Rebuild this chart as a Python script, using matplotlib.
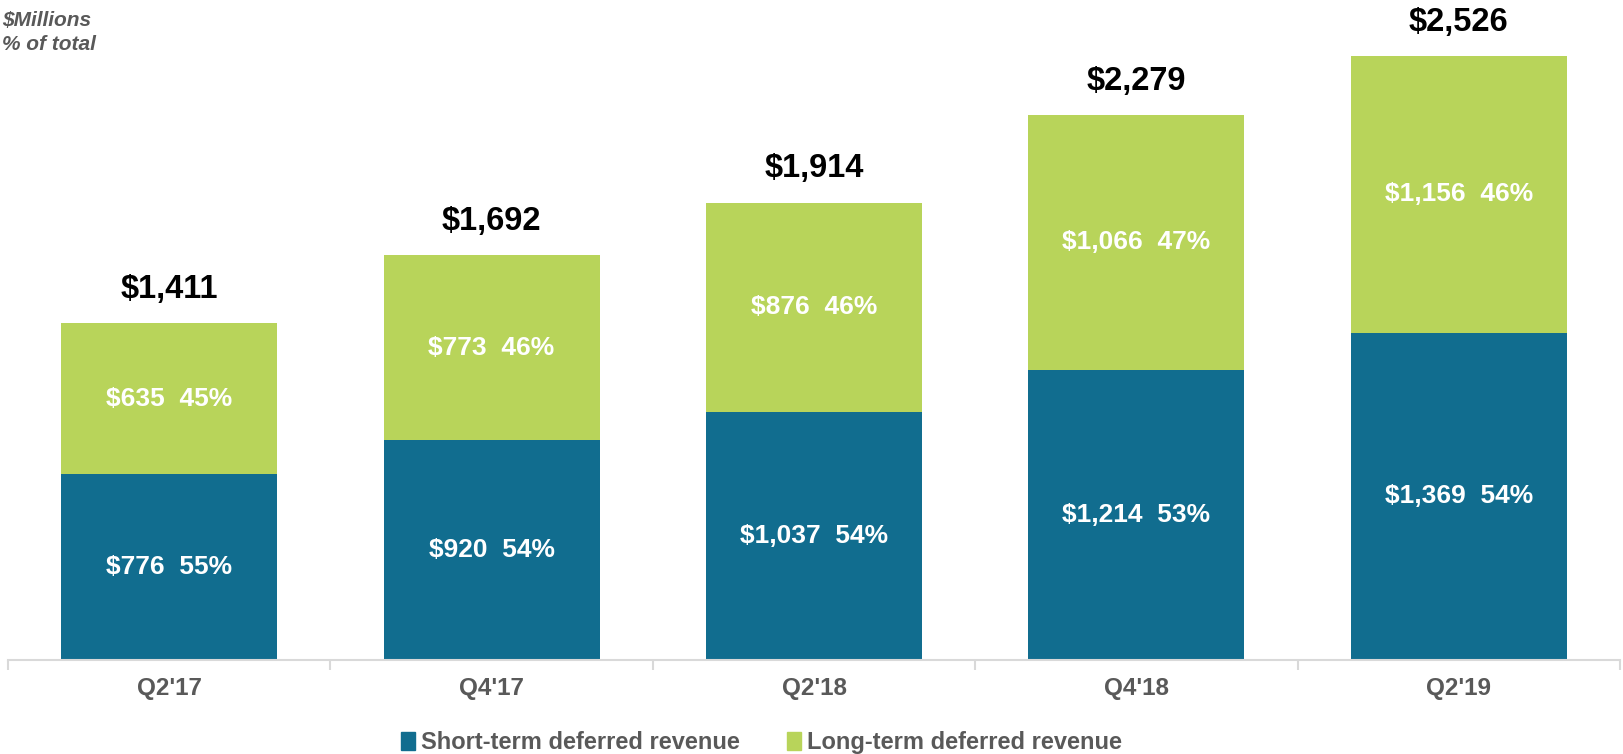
import numpy as np
import matplotlib.pyplot as plt
from matplotlib.patches import Patch

plt.rcParams['font.family'] = ['Liberation Sans', 'DejaVu Sans']

quarters = ["Q2'17", "Q4'17", "Q2'18", "Q4'18", "Q2'19"]
short_term = [776, 920, 1037, 1214, 1369]
long_term = [635, 773, 876, 1066, 1156]
short_pct = [55, 54, 54, 53, 54]
long_pct = [45, 46, 46, 47, 46]
totals = [1411, 1692, 1914, 2279, 2526]

blue = '#116d8f'
green = '#b8d45a'
gray = '#595959'

fig = plt.figure(figsize=(16.23, 7.54), dpi=100)
ax = fig.add_axes([8 / 1623, 1 - 660 / 754, 1612 / 1623, 660 / 754])

x = np.arange(len(quarters))
w = 0.67
ax.bar(x, short_term, w, color=blue)
ax.bar(x, long_term, w, bottom=short_term, color=green)

for i in range(len(quarters)):
    ax.text(x[i], short_term[i] / 2, f"${short_term[i]:,}  {short_pct[i]}%",
            ha='center', va='center', color='white', fontsize=19, fontweight='bold')
    ax.text(x[i], short_term[i] + long_term[i] / 2, f"${long_term[i]:,}  {long_pct[i]}%",
            ha='center', va='center', color='white', fontsize=19, fontweight='bold')
    ax.text(x[i], totals[i] + 75, f"${totals[i]:,}", ha='center', va='bottom',
            color='black', fontsize=23.5, fontweight='bold')

ax.set_xlim(-0.5, len(quarters) - 0.5)
ax.set_ylim(0, 2526 * 660 / 604)
for s in ['top', 'right', 'left']:
    ax.spines[s].set_visible(False)
ax.spines['bottom'].set_color('#d9d9d9')
ax.spines['bottom'].set_linewidth(1.5)
ax.set_yticks([])
ax.set_xticks(x)
ax.set_xticklabels(quarters, fontsize=17.5, fontweight='bold', color=gray)
ax.tick_params(axis='x', length=0, pad=12)
ax.set_xticks(np.arange(-0.5, len(quarters)), minor=True)
ax.tick_params(axis='x', which='minor', length=7, color='#d9d9d9', width=1.5)

fig.text(0.001, 0.985, "$Millions\n% of total", ha='left', va='top', fontsize=15,
         fontweight='bold', fontstyle='italic', color=gray, linespacing=1.3)

handles = [Patch(color=blue), Patch(color=green)]
fig.legend(handles, ["Short-term deferred revenue", "Long-term deferred revenue"],
           loc='center', bbox_to_anchor=(0.469, 0.015), ncol=2, frameon=False,
           prop={'size': 17, 'weight': 'bold'}, labelcolor=gray,
           handlelength=0.6, handleheight=0.75, handletextpad=0.25, columnspacing=2.0)

fig.savefig('out.png', dpi=100)
